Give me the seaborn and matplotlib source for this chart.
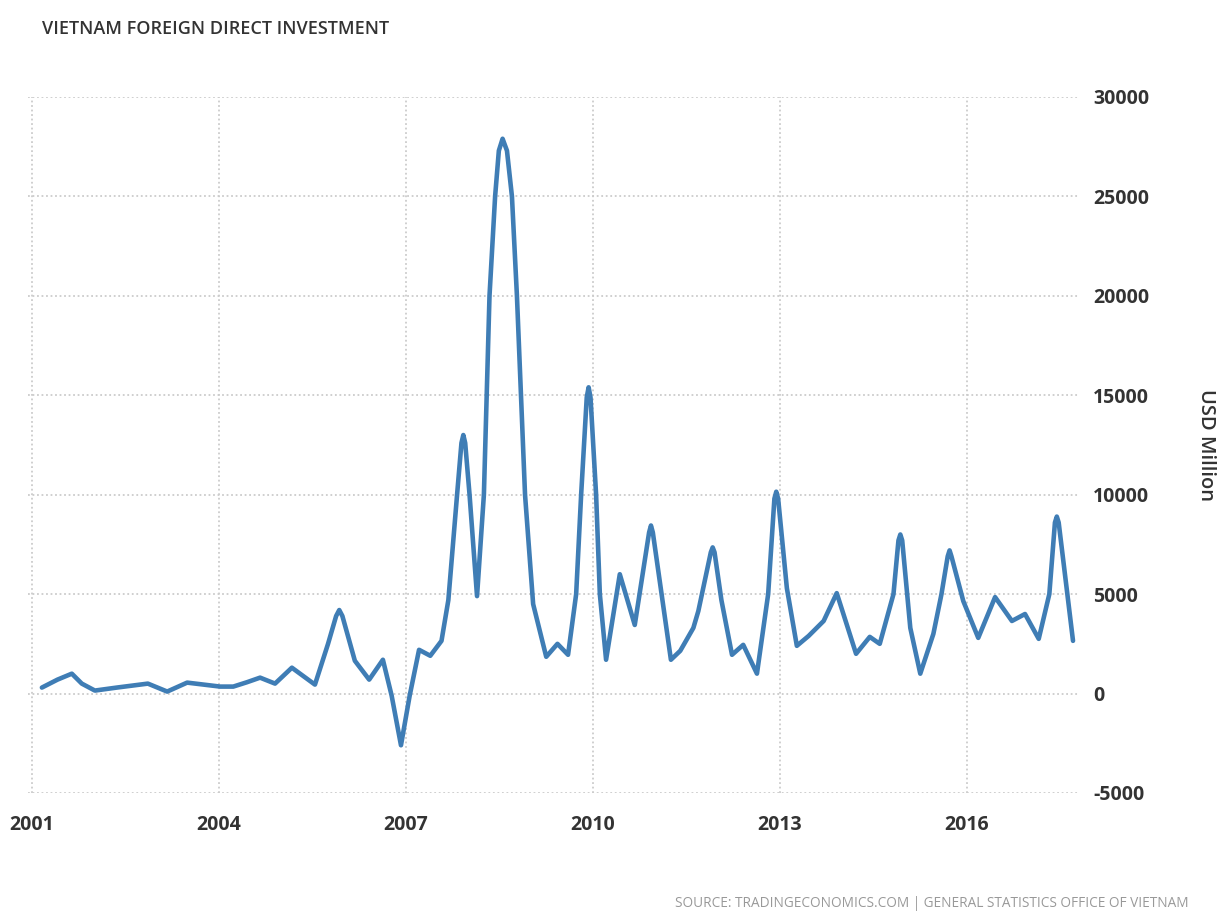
import matplotlib
matplotlib.use("Agg")
import matplotlib.pyplot as plt
import seaborn as sns
import pandas as pd

# readings taken off the chart (decimal year, USD million)
years = [2001.16, 2001.41, 2001.64, 2001.80, 2002.01, 2002.36, 2002.86, 2003.17,
         2003.49, 2004.02, 2004.23, 2004.45, 2004.66, 2004.90, 2005.17, 2005.54,
         2005.75, 2005.88, 2005.93, 2005.98, 2006.18, 2006.41, 2006.63, 2006.77,
         2006.92, 2007.06, 2007.21, 2007.39, 2007.57, 2007.68, 2007.82, 2007.89,
         2007.92, 2007.95, 2008.02, 2008.14, 2008.25, 2008.34, 2008.43, 2008.49,
         2008.55, 2008.62, 2008.70, 2008.78, 2008.91, 2009.04, 2009.25, 2009.43,
         2009.60, 2009.73, 2009.81, 2009.90, 2009.93, 2009.96, 2010.05, 2010.11,
         2010.21, 2010.43, 2010.67, 2010.90, 2010.93, 2010.96, 2011.25, 2011.40,
         2011.61, 2011.69, 2011.89, 2011.92, 2011.95, 2012.06, 2012.23, 2012.41,
         2012.63, 2012.81, 2012.91, 2012.94, 2012.97, 2013.11, 2013.27, 2013.46,
         2013.70, 2013.91, 2014.22, 2014.44, 2014.60, 2014.82, 2014.90, 2014.93,
         2014.96, 2015.09, 2015.25, 2015.46, 2015.59, 2015.69, 2015.72, 2015.75,
         2015.94, 2016.18, 2016.45, 2016.72, 2016.93, 2017.15, 2017.32, 2017.41,
         2017.44, 2017.47, 2017.70]
fdi = [300, 700, 1000, 500, 150, 300, 500, 100,
       550, 350, 350, 570, 800, 500, 1300, 450,
       2500, 3900, 4200, 3900, 1650, 700, 1700, -100,
       -2600, -100, 2200, 1900, 2650, 4700, 10000, 12600,
       13000, 12600, 10000, 4900, 10000, 20000, 25000, 27300,
       27900, 27300, 25000, 20000, 10000, 4500, 1850, 2500,
       1950, 5000, 10000, 14900, 15400, 14900, 10000, 5000,
       1700, 6000, 3450, 8100, 8450, 8100, 1700, 2150,
       3300, 4150, 7100, 7350, 7100, 4700, 1950, 2450,
       1000, 5000, 9800, 10150, 9800, 5300, 2400, 2900,
       3650, 5050, 2000, 2850, 2500, 5000, 7700, 8000,
       7700, 3300, 1000, 3000, 5000, 6900, 7200, 6900,
       4650, 2800, 4850, 3650, 4000, 2750, 5000, 8600,
       8900, 8600, 2650]

x_ticks = [2001, 2004, 2007, 2010, 2013, 2016]
y_ticks = [-5000, 0, 5000, 10000, 15000, 20000, 25000, 30000]

df = pd.DataFrame({"year": years, "fdi": fdi})

sns.set_style("white")
plt.rcParams["font.family"] = ["Open Sans", "DejaVu Sans"]

fig = plt.figure(figsize=(12.25, 9.21), dpi=100)
ax = fig.add_axes([0.023, 0.139, 0.857, 0.7557])

sns.lineplot(data=df, x="year", y="fdi", ax=ax, color="#3f7db5", linewidth=3.3,
             solid_joinstyle="round", solid_capstyle="round")

ax.set_xlim(2000.94, 2017.78)
ax.set_ylim(-5000, 30000)
ax.set_xticks(x_ticks)
ax.set_yticks(y_ticks)
ax.set_xticklabels([str(t) for t in x_ticks])
ax.set_yticklabels([str(t) for t in y_ticks])

ax.yaxis.tick_right()
ax.yaxis.set_label_position("right")
ax.set_xlabel("")
ax.set_ylabel("USD Million", rotation=270, labelpad=48, fontsize=14.5,
              color="#333333", fontweight="semibold")

ax.grid(True, linestyle=(0, (1, 1.5)), color="#cccccc", linewidth=1.3)
for s in ax.spines.values():
    s.set_visible(False)

ax.tick_params(axis="x", length=10, width=1, color="#cccccc", pad=6,
               labelsize=14, labelcolor="#333333")
ax.tick_params(axis="y", length=0, pad=11, labelsize=14, labelcolor="#333333")
for lab in ax.get_xticklabels() + ax.get_yticklabels():
    lab.set_fontweight("bold")

fig.text(0.034, 0.969, "VIETNAM FOREIGN DIRECT INVESTMENT", fontsize=13,
         color="#333333", ha="left", va="center", fontweight="semibold")
fig.text(0.970, 0.011, "SOURCE: TRADINGECONOMICS.COM | GENERAL STATISTICS OFFICE OF VIETNAM",
         fontsize=9.8, color="#999999", ha="right", va="bottom")

fig.savefig("out.png", dpi=100)
